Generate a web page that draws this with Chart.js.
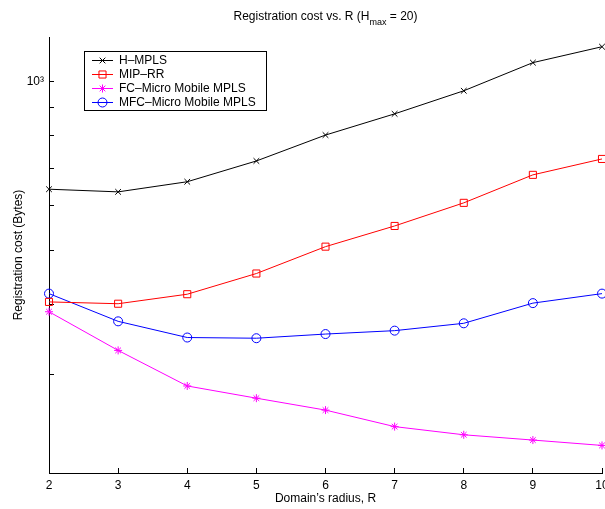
<!DOCTYPE html>
<html>
<head>
<meta charset="utf-8">
<script src="https://cdn.jsdelivr.net/npm/chart.js@4.4.1/dist/chart.umd.min.js"></script>
<style>
  html, body { margin: 0; padding: 0; background: #fff; overflow: hidden; }
  canvas { display: block; }
</style>
</head>
<body>
<canvas id="grafico" width="605" height="509"></canvas>
<script>
// valores (eixo y em escala log)
const raios = [2, 3, 4, 5, 6, 7, 8, 9, 10];
const hMpls = [642, 635, 662, 721, 802, 875, 962, 1080, 1153];
const mipRr = [404, 401, 417, 454, 507, 552, 607, 681, 727];
const fcMicro = [388, 331, 286, 272, 259, 242, 234, 229, 224];
const mfcMicro = [418, 373, 349, 348, 354, 359, 370, 402, 418];
const ticksY = [300, 400, 500, 600, 700, 800, 900, 1000];
const ticksX = [2, 3, 4, 5, 6, 7, 8, 9, 10];

const fonte = '"Liberation Sans", Arial, sans-serif';

function pontos(valores) {
    return raios.map((r, i) => ({ x: r, y: valores[i] }));
}

function serie(label, valores, cor, estilo, raio) {
    return {
        label: label,
        data: pontos(valores),
        borderColor: cor,
        borderWidth: 1,
        pointStyle: estilo,
        pointRadius: raio,
        pointBorderColor: cor,
        pointBorderWidth: 1,
        pointBackgroundColor: 'rgba(0,0,0,0)',
        fill: false,
        tension: 0,
        clip: false
    };
}

// titulo com subscrito desenhado a mao
const tituloPlugin = {
    id: 'titulo',
    afterDraw(chart) {
        const ctx = chart.ctx;
        const area = chart.chartArea;
        const cx = (area.left + area.right) / 2;
        const a = 'Registration cost vs. R (H', b = 'max', c = ' = 20)';
        ctx.save();
        ctx.fillStyle = '#000';
        ctx.textBaseline = 'middle';
        ctx.textAlign = 'left';
        ctx.font = '12px ' + fonte;
        const wa = ctx.measureText(a).width;
        const wc = ctx.measureText(c).width;
        ctx.font = '9px ' + fonte;
        const wb = ctx.measureText(b).width;
        let x = cx - (wa + wb + wc) / 2;
        ctx.font = '12px ' + fonte;
        ctx.fillText(a, x, 17);
        x += wa;
        ctx.font = '9px ' + fonte;
        ctx.fillText(b, x, 23);
        x += wb;
        ctx.font = '12px ' + fonte;
        ctx.fillText(c, x, 17);
        ctx.restore();
    }
};

// legenda dentro da area do grafico, com caixa
const legendaPlugin = {
    id: 'legenda',
    afterDraw(chart) {
        const ctx = chart.ctx;
        ctx.save();
        ctx.fillStyle = '#fff';
        ctx.fillRect(84.5, 51.5, 182, 59);
        ctx.strokeStyle = '#000';
        ctx.lineWidth = 1;
        ctx.strokeRect(84.5, 51.5, 182, 59);
        chart.data.datasets.forEach((ds, i) => {
            const y = 60.5 + i * 14;
            ctx.strokeStyle = ds.borderColor;
            ctx.lineWidth = 1;
            ctx.beginPath();
            ctx.moveTo(92, y);
            ctx.lineTo(113, y);
            ctx.stroke();
            ctx.fillStyle = 'rgba(0,0,0,0)';
            Chart.helpers.drawPoint(ctx, {
                pointStyle: ds.pointStyle,
                radius: ds.pointRadius,
                rotation: 0,
                borderWidth: 1
            }, 102.5, y);
            ctx.fillStyle = '#000';
            ctx.font = '12px ' + fonte;
            ctx.textAlign = 'left';
            ctx.textBaseline = 'middle';
            ctx.fillText(ds.label, 119, y + 0.5);
        });
        ctx.restore();
    }
};

const ctx = document.getElementById('grafico');

new Chart(ctx, {
    type: 'line',
    data: {
        datasets: [
            serie('H–MPLS', hMpls, '#000000', 'crossRot', 4),
            serie('MIP–RR', mipRr, '#ff0000', 'rect', 5),
            serie('FC–Micro Mobile MPLS', fcMicro, '#ff00ff', 'star', 4),
            serie('MFC–Micro Mobile MPLS', mfcMicro, '#0000ff', 'circle', 4.5)
        ]
    },
    options: {
        responsive: false,
        animation: false,
        events: [],
        layout: { autoPadding: false, padding: { top: 37, right: 3, bottom: 0, left: 0 } },
        plugins: {
            legend: { display: false },
            title: { display: false },
            tooltip: { enabled: false }
        },
        scales: {
            x: {
                type: 'linear',
                min: 2,
                max: 10,
                afterBuildTicks: (scale) => {
                    scale.ticks = ticksX.map(v => ({ value: v }));
                },
                afterFit: (scale) => {
                    scale.height = 36;
                    scale.paddingLeft = 0;
                    scale.paddingRight = 0;
                },
                grid: { drawOnChartArea: false, drawTicks: true, tickLength: -5, color: '#000', lineWidth: 1 },
                border: { display: true, color: '#000', width: 1 },
                ticks: {
                    color: '#000',
                    font: { family: fonte, size: 12 },
                    padding: 10,
                    maxRotation: 0,
                    autoSkip: false,
                    callback: (v) => String(v)
                },
                title: {
                    display: true,
                    text: 'Domain’s radius, R',
                    color: '#000',
                    font: { family: fonte, size: 12 },
                    padding: { top: 0, bottom: 3 }
                }
            },
            y: {
                type: 'logarithmic',
                min: 200,
                max: 1200,
                afterBuildTicks: (scale) => {
                    scale.ticks = ticksY.map(v => ({ value: v }));
                },
                afterFit: (scale) => {
                    scale.width = 49;
                    scale.paddingTop = 0;
                    scale.paddingBottom = 0;
                },
                grid: { drawOnChartArea: false, drawTicks: true, tickLength: -5, color: '#000', lineWidth: 1 },
                border: { display: true, color: '#000', width: 1 },
                ticks: {
                    color: '#000',
                    font: { family: fonte, size: 12 },
                    padding: 10,
                    autoSkip: false,
                    callback: (v) => (v === 1000 ? '10³' : '')
                },
                title: {
                    display: true,
                    text: 'Registration cost (Bytes)',
                    color: '#000',
                    font: { family: fonte, size: 12 },
                    padding: { top: 11, bottom: 0 }
                }
            }
        }
    },
    plugins: [tituloPlugin, legendaPlugin]
});
</script>
</body>
</html>
